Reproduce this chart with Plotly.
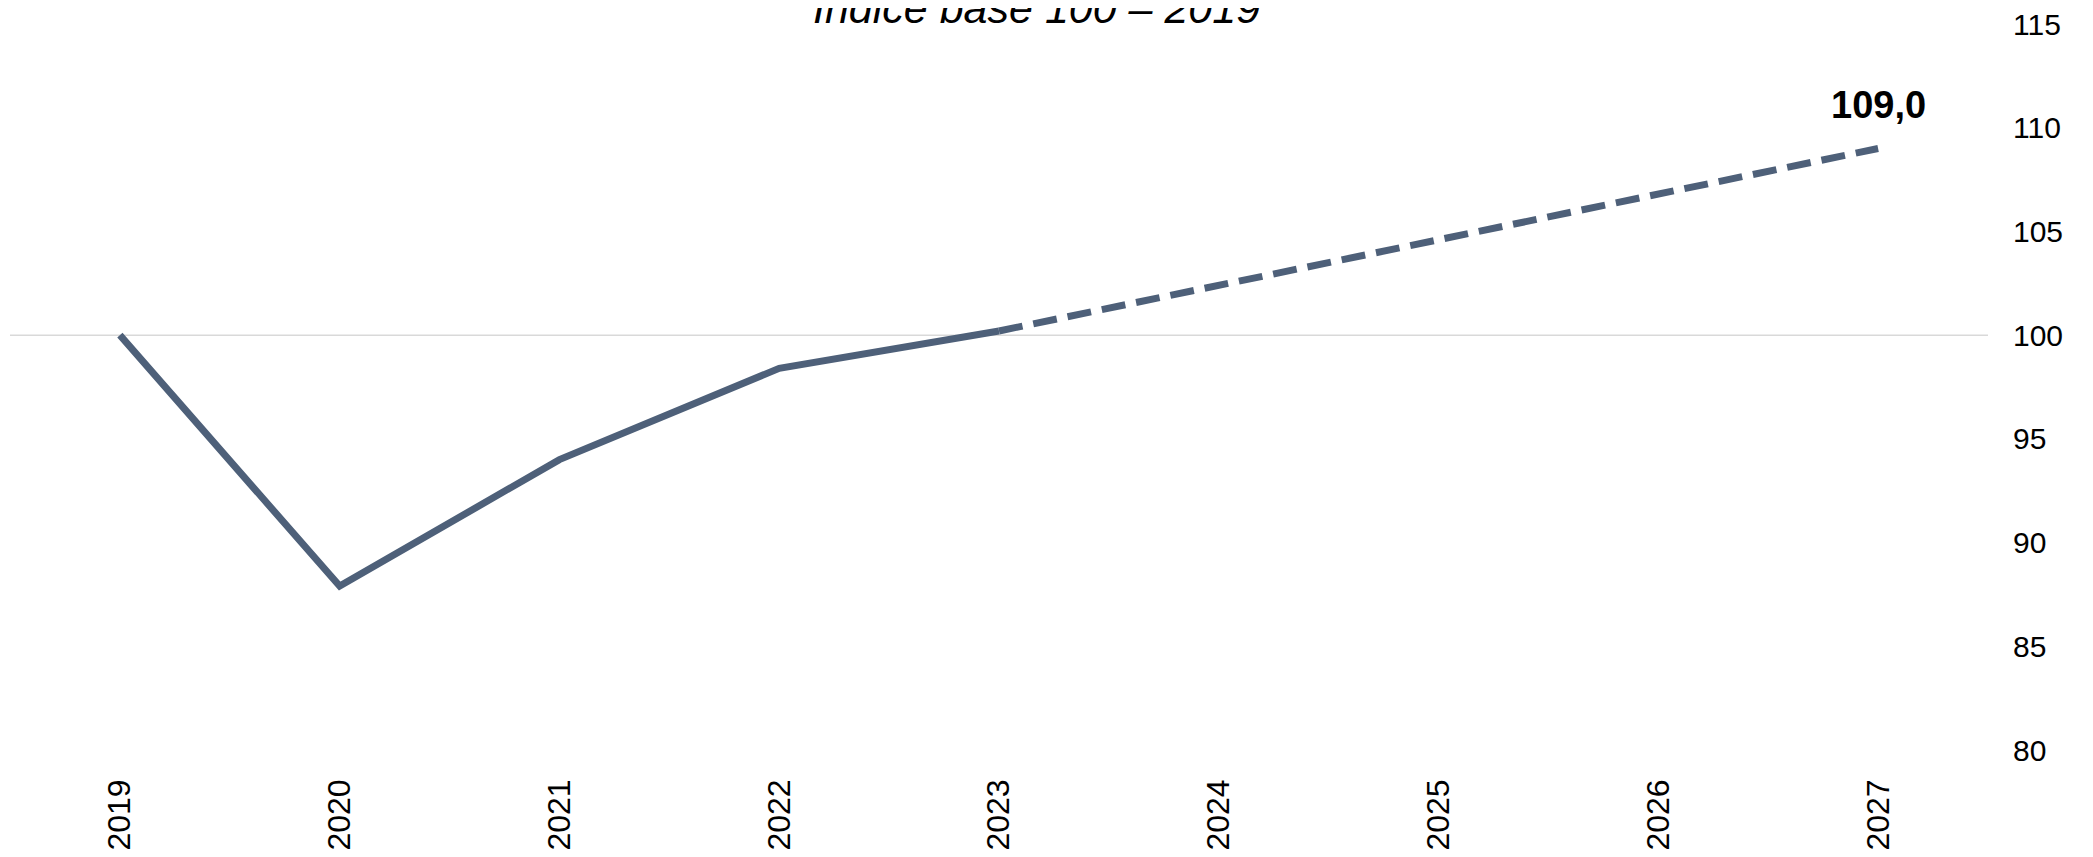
import plotly.graph_objects as go

years = ["2019", "2020", "2021", "2022", "2023", "2024", "2025", "2026", "2027"]
values = [100.0, 87.9, 94.0, 98.4, 100.2, 102.4, 104.6, 106.8, 109.0]
observed_last = 4  # index of 2023, last observed year
y_ticks = [80, 85, 90, 95, 100, 105, 110, 115]
title_text = "Índice base 100 – 2019"
line_color = "#4E6079"

fig = go.Figure()
fig.add_trace(go.Scatter(
    x=years[:observed_last + 1], y=values[:observed_last + 1],
    mode="lines", line=dict(color=line_color, width=7),
    hoverinfo="skip", showlegend=False,
))
fig.add_trace(go.Scatter(
    x=years[observed_last:], y=values[observed_last:],
    mode="lines", line=dict(color=line_color, width=7, dash="24px,11px"),
    hoverinfo="skip", showlegend=False,
))

fig.add_shape(type="line", xref="paper", yref="y", x0=0, x1=1, y0=100, y1=100,
              line=dict(color="#D9D9D9", width=1.5), layer="below")

label = f"{values[-1]:.1f}".replace(".", ",")
fig.add_annotation(x=len(years) - 1, y=values[-1], xref="x", yref="y",
                   text="<b>" + label + "</b>",
                   showarrow=False, yanchor="bottom", yshift=20,
                   font=dict(family="Liberation Sans", size=38, color="#000000"))

fig.add_annotation(xref="paper", yref="paper", x=0.519, y=1, text="<i>" + title_text + "</i>",
                   showarrow=False, yanchor="bottom", yshift=-10,
                   font=dict(family="Liberation Sans", size=43, color="#000000"))

fig.update_layout(
    template="none",
    width=2093, height=857,
    margin=dict(l=2, r=113, t=16, b=115, autoexpand=False),
    paper_bgcolor="white", plot_bgcolor="white",
    xaxis=dict(type="category", range=[-0.5, 8.5], showgrid=False, showline=False,
               zeroline=False, tickangle=-90, ticks="", ticklabelstandoff=22,
               automargin=False, ticklabeloverflow="allow",
               tickfont=dict(family="Liberation Sans", size=32, color="#000000")),
    yaxis=dict(side="right", range=[80, 115], tickvals=y_ticks, showgrid=False,
               zeroline=False, showline=False, ticks="", ticklabelstandoff=24,
               automargin=False, ticklabeloverflow="allow",
               tickfont=dict(family="Liberation Sans", size=30, color="#000000")),
)

fig.write_html("out.html")
